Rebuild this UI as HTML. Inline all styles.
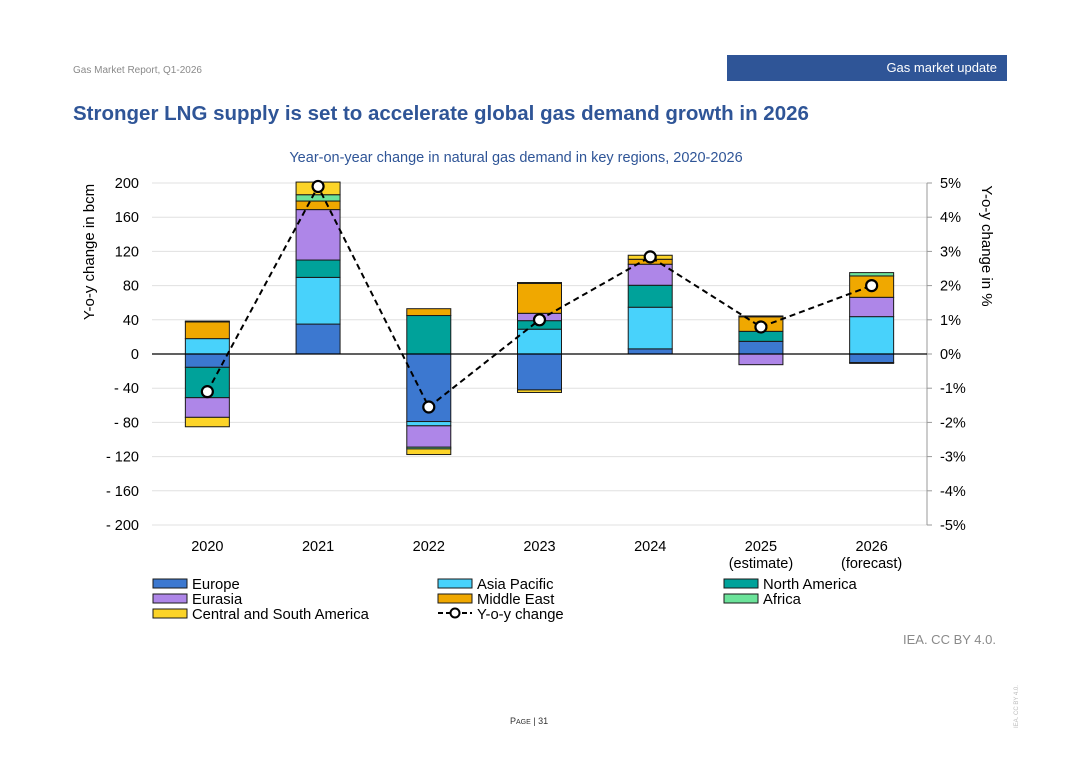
<!DOCTYPE html>
<html><head><meta charset="utf-8"><style>
body{margin:0;width:1080px;height:764px;background:#fff;font-family:"Liberation Sans",sans-serif;position:relative;overflow:hidden}
.abs{position:absolute}
</style></head><body>
<div class="abs" style="left:73px;top:65px;font-size:10px;color:#8a8a8a">Gas Market Report, Q1-2026</div>
<div class="abs" style="left:727px;top:55px;width:280px;height:26px;background:#2f5597;color:#fff;font-size:13px;line-height:26px;text-align:right;box-sizing:border-box;padding-right:10px">Gas market update</div>
<div class="abs" style="left:73px;top:102px;font-size:20.5px;font-weight:bold;color:#2f5597">Stronger LNG supply is set to accelerate global gas demand growth in 2026</div>
<div class="abs" style="left:903px;top:632px;font-size:13px;color:#8a8a8a">IEA. CC BY 4.0.</div>
<div class="abs" style="left:510px;top:716px;font-size:9px;color:#333">P<span style="font-size:7px">AGE</span> | 31</div>
<div class="abs" style="left:1014px;top:728px;font-size:6px;color:#bbb;transform:rotate(-90deg);transform-origin:left top">IEA. CC BY 4.0.</div>
<svg id="chart" class="abs" style="left:0;top:0" width="1080" height="764"></svg>
<script>
const years=["2020","2021","2022","2023","2024","2025","2026"];
const yearSub=["","","","","","(estimate)","(forecast)"];
const europe=[-15.6,35,-79,-42,6,14.8,-10];
const asiaPacific=[18,54.6,-5,29,48.7,0,43.7];
const northAmerica=[-35.5,20.3,45,10,25.7,11.7,-1];
const eurasia=[-23,59,-25,8.6,24.6,-12.5,22.6];
const middleEast=[19.5,10,8,35,5.8,17,25];
const africa=[1,7.4,-2,1,0,1,3.9];
const csAmerica=[-11,14.8,-6.6,-3,4.7,0,0];
const yoy=[-1.1,4.9,-1.55,1.0,2.84,0.79,2.0];
const leftTicks=[200,160,120,80,40,0,-40,-80,-120,-160,-200];
const rightTicks=[5,4,3,2,1,0,-1,-2,-3,-4,-5];
const series=[["Europe",europe,"#3c78d0"],["Asia Pacific",asiaPacific,"#48d2fb"],["North America",northAmerica,"#00a29a"],["Eurasia",eurasia,"#ae86e8"],["Middle East",middleEast,"#f0a800"],["Africa",africa,"#6ce39a"],["Central and South America",csAmerica,"#fcd428"]];
const svg=document.getElementById('chart');const NS="http://www.w3.org/2000/svg";
const X0=152,X1=927,Y0=183,Y1=525;
const y=v=>354-v*(Y1-Y0)/400;const yr=v=>354-v*(Y1-Y0)/10;
const bw=(X1-X0)/years.length;const xc=i=>X0+bw*(i+0.5);
function mk(t,a,txt){const e=document.createElementNS(NS,t);for(const k in a)e.setAttribute(k,a[k]);if(txt!=null)e.textContent=txt;svg.appendChild(e);return e;}
let e=mk('text',{x:516,y:162,'text-anchor':'middle','font-size':14.5,fill:'#2f5597'},"Year-on-year change in natural gas demand in key regions, 2020-2026");

leftTicks.forEach(t=>{e=mk('line',{x1:X0,x2:X1,y1:y(t),y2:y(t),stroke:'#e0e0e0','stroke-width':1});

e=mk('text',{x:139,y:y(t)+5,'text-anchor':'end','font-size':14.5,fill:'#000'},t<0?'- '+(-t):String(t));
});
rightTicks.forEach(t=>{e=mk('text',{x:940,y:yr(t)+5,'font-size':14.5,fill:'#000'},t+'%');

e=mk('line',{x1:X1,x2:X1+5,y1:yr(t),y2:yr(t),stroke:'#999'});});
e=mk('line',{x1:X1,x2:X1,y1:Y0,y2:Y1,stroke:'#999'});
e=mk('text',{x:0,y:0,'font-size':15,transform:'translate(94,252) rotate(-90)','text-anchor':'middle'},"Y-o-y change in bcm");

e=mk('text',{x:0,y:0,'font-size':15,transform:'translate(982,246) rotate(90)','text-anchor':'middle'},"Y-o-y change in %");

years.forEach((yy,i)=>{let pos=0,neg=0;
series.forEach(s=>{const v=s[1][i];if(!v)return;let a,b;if(v>0){a=pos;b=pos+v;pos=b;}else{a=neg;b=neg+v;neg=b;}
e=mk('rect',{x:xc(i)-22,y:Math.min(y(a),y(b)),width:44,height:Math.abs(y(a)-y(b)),fill:s[2],stroke:'#1a1a1a','stroke-width':1});
});
e=mk('text',{x:xc(i),y:551,'text-anchor':'middle','font-size':14.5},yy);
if(yearSub[i]){e=mk('text',{x:xc(i),y:568,'text-anchor':'middle','font-size':14.5},yearSub[i]);}});
e=mk('line',{x1:X0,x2:X1,y1:y(0),y2:y(0),stroke:'#000','stroke-width':1.2});
e=mk('polyline',{points:yoy.map((v,i)=>xc(i)+','+yr(v)).join(' '),fill:'none',stroke:'#000','stroke-width':2,'stroke-dasharray':'6,4'});

yoy.forEach((v,i)=>{e=mk('circle',{cx:xc(i),cy:yr(v),r:5.5,fill:'#fff',stroke:'#000','stroke-width':2.2});
});
const leg=[["Europe","#3c78d0",153,584],["Asia Pacific","#48d2fb",438,584],["North America","#00a29a",724,584],["Eurasia","#ae86e8",153,599],["Middle East","#f0a800",438,599],["Africa","#6ce39a",724,599],["Central and South America","#fcd428",153,614]];
leg.forEach(l=>{e=mk('rect',{x:l[2],y:l[3]-5,width:34,height:9,fill:l[1],stroke:'#1a1a1a'});
e=mk('text',{x:l[2]+39,y:l[3]+5,'font-size':14.8},l[0]);});
e=mk('line',{x1:438,x2:472,y1:613,y2:613,stroke:'#000','stroke-width':2,'stroke-dasharray':'5,3'});
e=mk('circle',{cx:455,cy:613,r:4.5,fill:'#fff',stroke:'#000','stroke-width':2});
e=mk('text',{x:477,y:619,'font-size':14.8},"Y-o-y change");
</script>
</body></html>
